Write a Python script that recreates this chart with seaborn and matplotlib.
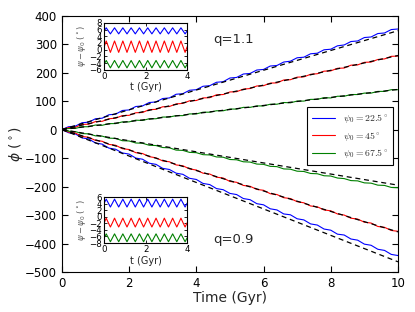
"""Precession angle phi versus time for two flattenings (q=1.1, q=0.9)."""

import matplotlib
matplotlib.use("Agg")
import matplotlib.pyplot as plt
import numpy as np
import seaborn as sns
from matplotlib.font_manager import FontProperties

# --- data ------------------------------------------------------------------
labels = [r"$\psi_0=22.5^\circ$", r"$\psi_0=45^\circ$", r"$\psi_0=67.5^\circ$"]
colors = ["#0000ff", "#ff0000", "#008000"]

# solid curves, sampled every 0.2 Gyr from 0 to 10 Gyr
q11_blue = [0, 10, 12, 24, 26, 38, 40, 52, 54, 67, 69, 81, 83, 95, 97, 109, 111,
            124, 126, 138, 140, 152, 154, 166, 168, 181, 183, 195, 197, 209, 211,
            223, 225, 237, 240, 252, 254, 266, 268, 280, 282, 294, 297, 309, 311,
            323, 325, 337, 339, 351, 353]
q11_red = [0, 7, 8, 18, 19, 28, 29, 38, 40, 49, 50, 59, 60, 70, 71, 80, 81, 90,
           92, 101, 102, 111, 112, 122, 123, 132, 133, 142, 144, 153, 154, 163,
           164, 174, 175, 184, 185, 194, 196, 205, 206, 215, 216, 226, 227, 236,
           237, 246, 248, 257, 258]
q11_green = [0, 4, 4, 10, 10, 16, 15, 21, 21, 27, 27, 33, 32, 38, 38, 44, 44, 49,
             49, 55, 55, 61, 61, 66, 66, 72, 72, 78, 78, 83, 83, 89, 89, 95, 94,
             100, 100, 106, 106, 112, 111, 117, 117, 123, 123, 128, 128, 134, 134,
             140, 140]
q09_blue = [0, -11, -15, -29, -33, -47, -51, -65, -69, -82, -86, -100, -104, -118,
            -122, -136, -140, -153, -157, -171, -175, -189, -193, -207, -211, -224,
            -228, -242, -246, -260, -264, -278, -282, -296, -299, -313, -317, -331,
            -335, -349, -353, -367, -370, -384, -388, -402, -406, -420, -424, -438,
            -442]
q09_red = [0, -9, -12, -24, -27, -38, -41, -52, -55, -67, -70, -81, -84, -95, -99,
           -110, -113, -124, -127, -138, -142, -153, -156, -167, -170, -182, -185,
           -196, -199, -210, -213, -225, -228, -239, -242, -253, -257, -268, -271,
           -282, -285, -296, -300, -311, -314, -325, -328, -340, -343, -354, -357]
q09_green = [0, -6, -7, -14, -15, -22, -23, -30, -31, -39, -40, -47, -48, -55, -56,
             -63, -64, -72, -73, -80, -81, -88, -89, -96, -97, -105, -106, -113,
             -114, -121, -122, -129, -130, -138, -139, -146, -147, -154, -155, -162,
             -163, -170, -172, -179, -180, -187, -188, -195, -196, -203, -204]

# dashed analytic lines: value at t=0 and t=10 Gyr
dash_t = [0, 10]
q11_dash = [[0, 347], [0, 260], [0, 141]]
q09_dash = [[0, -464], [0, -359], [0, -195]]

# insets: psi - psi0 sampled every 0.1 Gyr from 0 to 4 Gyr
top_blue = [5.6, 6.5, 5.6, 4.7, 5.6, 6.5, 5.6, 4.7, 5.6, 6.5, 5.6, 4.7, 5.6, 6.5,
            5.6, 4.7, 5.6, 6.5, 5.6, 4.7, 5.6, 6.5, 5.6, 4.7, 5.6, 6.5, 5.6, 4.7,
            5.6, 6.5, 5.6, 4.7, 5.6, 6.5, 5.6, 4.7, 5.6, 6.5, 5.6, 4.7, 5.6]
top_red = [0.9, 2.6, 0.9, -0.8, 0.9, 2.6, 0.9, -0.8, 0.9, 2.6, 0.9, -0.8, 0.9, 2.6,
           0.9, -0.8, 0.9, 2.6, 0.9, -0.8, 0.9, 2.6, 0.9, -0.8, 0.9, 2.6, 0.9, -0.8,
           0.9, 2.6, 0.9, -0.8, 0.9, 2.6, 0.9, -0.8, 0.9, 2.6, 0.9, -0.8, 0.9]
top_green = [-4.3, -3.2, -4.3, -5.4, -4.3, -3.2, -4.3, -5.4, -4.3, -3.2, -4.3, -5.4,
             -4.3, -3.2, -4.3, -5.4, -4.3, -3.2, -4.3, -5.4, -4.3, -3.2, -4.3, -5.4,
             -4.3, -3.2, -4.3, -5.4, -4.3, -3.2, -4.3, -5.4, -4.3, -3.2, -4.3, -5.4,
             -4.3, -3.2, -4.3, -5.4, -4.3]
bot_blue = [4.2, 5.4, 4.2, 3.0, 4.2, 5.4, 4.2, 3.0, 4.2, 5.4, 4.2, 3.0, 4.2, 5.4,
            4.2, 3.0, 4.2, 5.4, 4.2, 3.0, 4.2, 5.4, 4.2, 3.0, 4.2, 5.4, 4.2, 3.0,
            4.2, 5.4, 4.2, 3.0, 4.2, 5.4, 4.2, 3.0, 4.2, 5.4, 4.2, 3.0, 4.2]
bot_red = [-1.8, -0.4, -1.8, -3.1, -1.8, -0.4, -1.8, -3.1, -1.8, -0.4, -1.8, -3.1,
           -1.8, -0.4, -1.8, -3.1, -1.8, -0.4, -1.8, -3.1, -1.8, -0.4, -1.8, -3.1,
           -1.8, -0.4, -1.8, -3.1, -1.8, -0.4, -1.8, -3.1, -1.8, -0.4, -1.8, -3.1,
           -1.8, -0.4, -1.8, -3.1, -1.8]
bot_green = [-6.4, -5.2, -6.4, -7.6, -6.4, -5.2, -6.4, -7.6, -6.4, -5.2, -6.4, -7.6,
             -6.4, -5.2, -6.4, -7.6, -6.4, -5.2, -6.4, -7.6, -6.4, -5.2, -6.4, -7.6,
             -6.4, -5.2, -6.4, -7.6, -6.4, -5.2, -6.4, -7.6, -6.4, -5.2, -6.4, -7.6,
             -6.4, -5.2, -6.4, -7.6, -6.4]

main_xticks = [0, 2, 4, 6, 8, 10]
main_yticks = [-500, -400, -300, -200, -100, 0, 100, 200, 300, 400]
inset_xticks = [0, 2, 4]
top_yticks = [-6, -4, -2, 0, 2, 4, 6, 8]
bot_yticks = [-8, -6, -4, -2, 0, 2, 4, 6]

# --- style --------------------------------------------------------------------
sns.set_style("ticks", rc={
    "xtick.direction": "in", "ytick.direction": "in",
    "xtick.top": True, "ytick.right": True,
    "axes.edgecolor": "black", "axes.linewidth": 1.0,
    "xtick.color": "black", "ytick.color": "black",
})
plt.rcParams["font.family"] = ["DejaVu Sans"]
plt.rcParams["mathtext.fontset"] = "dejavusans"

fig = plt.figure(figsize=(4.15, 3.12), dpi=100)
ax = fig.add_axes([0.149, 0.128, 0.810, 0.822])

t_main = np.linspace(0, 10, len(q11_blue))
for vals, c, lab in zip([q11_blue, q11_red, q11_green], colors, labels):
    sns.lineplot(x=t_main, y=vals, color=c, lw=0.8, label=lab, ax=ax)
for vals, c in zip([q09_blue, q09_red, q09_green], colors):
    sns.lineplot(x=t_main, y=vals, color=c, lw=0.8, ax=ax)
for vals in q11_dash + q09_dash:
    sns.lineplot(x=dash_t, y=vals, color="black", lw=0.9, ax=ax,
                 linestyle=(0, (4, 3)))

ax.set_xlim(0, 10)
ax.set_ylim(-500, 400)
ax.set_xticks(main_xticks)
ax.set_yticks(main_yticks)
ax.tick_params(labelsize=8.5, length=4, width=0.8)
ax.set_xlabel("Time (Gyr)", fontsize=10, labelpad=1)
ax.set_ylabel(r"$\phi$ ($^\circ$)", fontsize=10, labelpad=0)
ax.text(4.5, 315, "q=1.1", fontsize=9.5, va="center")
ax.text(4.5, -384, "q=0.9", fontsize=9.5, va="center")

leg = ax.legend(loc="center right", bbox_to_anchor=(1.0, 0.53), fancybox=False,
                framealpha=1, edgecolor="black", handlelength=2.3,
                borderpad=0.55, labelspacing=0.45,
                prop=FontProperties(size=7, math_fontfamily="cm"))
leg.get_frame().set_linewidth(0.8)


def draw_inset(rect, series, yticks, ylim):
    ins = fig.add_axes(rect)
    t_ins = np.linspace(0, 4, len(series[0]))
    for vals, c in zip(series, colors):
        sns.lineplot(x=t_ins, y=vals, color=c, lw=0.8, ax=ins)
    ins.set_xlim(0, 4)
    ins.set_ylim(*ylim)
    ins.set_xticks(inset_xticks)
    ins.set_yticks(yticks)
    ins.tick_params(labelsize=6.2, length=2.5, width=0.6, pad=1.5)
    ins.set_xlabel("t (Gyr)", fontsize=7, labelpad=1)
    ins.set_ylabel(r"$\psi-\psi_0$ ($^\circ$)", fontsize=6, labelpad=1,
                   color="#555555")
    return ins


draw_inset([0.251, 0.776, 0.200, 0.151], [top_blue, top_red, top_green],
           top_yticks, (-6, 8))
draw_inset([0.251, 0.221, 0.200, 0.147], [bot_blue, bot_red, bot_green],
           bot_yticks, (-8, 6))

fig.savefig("out.png", dpi=100, facecolor="white")
